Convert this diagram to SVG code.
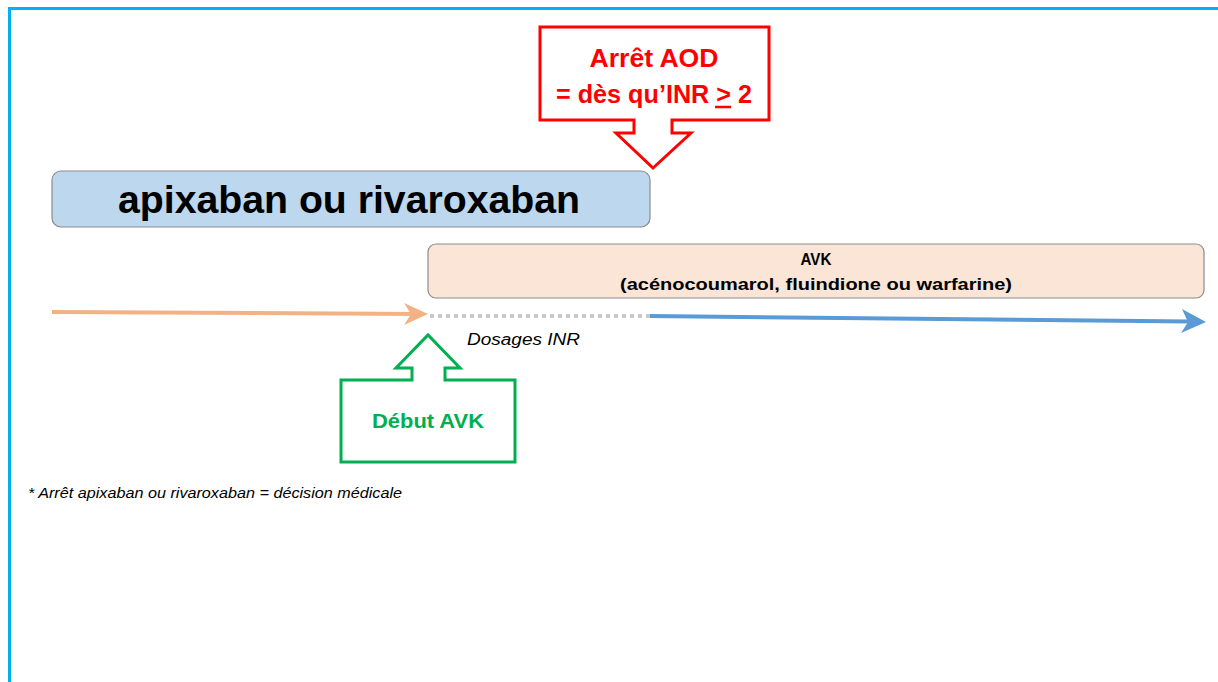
<svg xmlns="http://www.w3.org/2000/svg" width="1218" height="682" viewBox="0 0 1218 682">
<style>
text{font-family:"Liberation Sans",Arial,sans-serif}
.b{font-weight:bold}
.i{font-style:italic}
.box{stroke:#8c8c8c;stroke-width:1.2}
</style>
<rect width="1218" height="682" fill="#ffffff"/>
<g id="frame">
<line x1="8" y1="8.5" x2="1218" y2="8.5" stroke="#00b0f0" stroke-width="3"/>
<line x1="9.5" y1="7" x2="9.5" y2="682" stroke="#00b0f0" stroke-width="3"/>
</g>
<g id="connectors">
<line x1="52" y1="312" x2="420" y2="314" stroke="#f4b183" stroke-width="4"/>
<path d="M404,303 L428,314 L404,325 L411,314 Z" fill="#f4b183"/>
<line x1="430" y1="316" x2="650" y2="316" stroke="#c8c8c8" stroke-width="4" stroke-dasharray="4,4"/>
<line x1="650" y1="316" x2="1190" y2="321.5" stroke="#5b9bd5" stroke-width="4"/>
<path d="M1182,309 L1206,322 L1181,333 L1188,322 Z" fill="#5b9bd5"/>
</g>
<g id="node-aod">
<path d="M540,27 H769 V120 H672 V133 H691 L653,168 L616,133 H634 V120 H540 Z" fill="#ffffff" stroke="#ff0000" stroke-width="3" stroke-linejoin="miter"/>
<text x="654" y="67" text-anchor="middle" class="b" font-size="26" fill="#ff0000" textLength="129" lengthAdjust="spacingAndGlyphs">Arrêt AOD</text>
<text x="654" y="103" text-anchor="middle" class="b" font-size="26" fill="#ff0000" textLength="196" lengthAdjust="spacingAndGlyphs">= dès qu’INR &gt; 2</text>
<line x1="715" y1="107" x2="731" y2="107" stroke="#ff0000" stroke-width="2.5"/>
</g>
<g id="node-apixaban">
<rect x="52" y="171" width="598" height="56" rx="9" fill="#bdd7ee" class="box"/>
<text x="349" y="213" text-anchor="middle" class="b" font-size="38" fill="#000000" textLength="462" lengthAdjust="spacingAndGlyphs">apixaban ou rivaroxaban</text>
</g>
<g id="node-avk">
<rect x="428" y="244" width="776" height="54" rx="8" fill="#fbe5d6" class="box"/>
<text x="816" y="265" text-anchor="middle" class="b" font-size="17" fill="#000000" textLength="31" lengthAdjust="spacingAndGlyphs">AVK</text>
<text x="816" y="290" text-anchor="middle" class="b" font-size="17" fill="#000000" textLength="392" lengthAdjust="spacingAndGlyphs">(acénocoumarol, fluindione ou warfarine)</text>
</g>
<g id="label-inr">
<text x="467" y="345" class="i" font-size="16" fill="#000000" textLength="113" lengthAdjust="spacingAndGlyphs">Dosages INR</text>
</g>
<g id="node-debut">
<path d="M341,380 H412 V368 H396 L428,335 L460,368 H445 V380 H515 V462 H341 Z" fill="#ffffff" stroke="#00b050" stroke-width="3"/>
<text x="428" y="428" text-anchor="middle" class="b" font-size="20" fill="#00b050" textLength="112" lengthAdjust="spacingAndGlyphs">Début AVK</text>
</g>
<g id="footnote">
<text x="28" y="498" class="i" font-size="14" fill="#000000" textLength="374" lengthAdjust="spacingAndGlyphs">* Arrêt apixaban ou rivaroxaban = décision médicale</text>
</g>
</svg>
